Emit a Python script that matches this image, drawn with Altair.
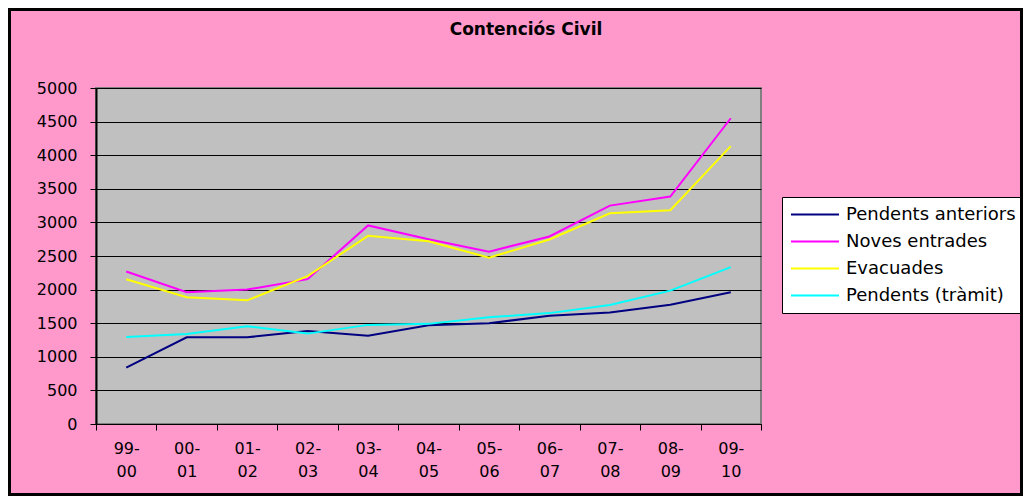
import altair as alt
import pandas as pd

periods = ["99-00", "00-01", "01-02", "02-03", "03-04", "04-05",
           "05-06", "06-07", "07-08", "08-09", "09-10"]
series_names = ["Pendents anteriors", "Noves entrades", "Evacuades", "Pendents (tràmit)"]
pendents_anteriors = [840, 1290, 1290, 1385, 1315, 1470, 1500, 1610, 1660, 1775, 1960]
noves_entrades = [2270, 1960, 2000, 2155, 2955, 2750, 2565, 2790, 3250, 3385, 4550]
evacuades = [2155, 1885, 1840, 2200, 2800, 2720, 2475, 2745, 3135, 3180, 4135]
pendents_tramit = [1295, 1340, 1455, 1345, 1475, 1490, 1590, 1650, 1770, 1985, 2335]
series_colors = ["#000080", "#FF00FF", "#FFFF00", "#00FFFF"]
y_ticks = list(range(0, 5001, 500))
title_text = "Contenciós Civil"

values = [pendents_anteriors, noves_entrades, evacuades, pendents_tramit]
rows = []
for name, vals in zip(series_names, values):
    for p, v in zip(periods, vals):
        rows.append({"Període": p, "Sèrie": name, "Valor": v})
df = pd.DataFrame(rows)

FONT = "DejaVu Sans"

lines = alt.Chart(df).mark_line(strokeWidth=2).encode(
    x=alt.X("Període:O", sort=periods,
            scale=alt.Scale(type="band", paddingInner=0, paddingOuter=0),
            axis=alt.Axis(title=None, labelAngle=0, tickBand="extent", grid=False,
                          labelExpr="[slice(datum.label, 0, 3), slice(datum.label, 3)]",
                          labelLineHeight=23, labelPadding=10, tickSize=6,
                          labelFontSize=16, labelFont=FONT, labelColor="black",
                          domainColor="black", tickColor="black")),
    y=alt.Y("Valor:Q", scale=alt.Scale(domain=[0, 5000], nice=False),
            axis=alt.Axis(title=None, values=y_ticks, grid=True, gridColor="black",
                          gridWidth=1, tickSize=6, labelPadding=13, format="d",
                          labelFontSize=16, labelFont=FONT, labelColor="black",
                          domainColor="black", domainWidth=2, tickColor="black")),
    color=alt.Color("Sèrie:N", sort=series_names,
                    scale=alt.Scale(domain=series_names, range=series_colors),
                    legend=alt.Legend(title=None, orient="none", legendX=686, legendY=109,
                                      symbolType="stroke", symbolSize=2304,
                                      symbolStrokeWidth=2, labelFontSize=18,
                                      labelFont=FONT, labelColor="black", labelOffset=6,
                                      labelLimit=0, clipHeight=27, symbolOffset=4,
                                      fillColor="white", strokeColor="black",
                                      padding=4, rowPadding=0)),
)

title = alt.Chart(pd.DataFrame({"t": [title_text]})).mark_text(
    font=FONT, fontSize=17, fontWeight="bold", color="black",
    align="center", baseline="alphabetic"
).encode(x=alt.value(430), y=alt.value(-53), text="t:N")

frame = alt.Chart(pd.DataFrame({"a": [0]})).mark_rect(
    fill=None, stroke="black", strokeWidth=3
).encode(
    x=alt.value(-86.5), x2=alt.value(925.5), y=alt.value(-78.5), y2=alt.value(406.5)
)

chart = alt.layer(lines, title, frame).properties(
    width=665, height=336,
    autosize=alt.AutoSizeParams(type="none"),
    padding={"left": 88, "top": 80, "right": 262, "bottom": 72},
).configure(background="#FF99CC").configure_view(
    fill="#C0C0C0", stroke="#808080", strokeWidth=2
)

chart.save("out.html", embed_options={"renderer": "svg", "actions": False})
